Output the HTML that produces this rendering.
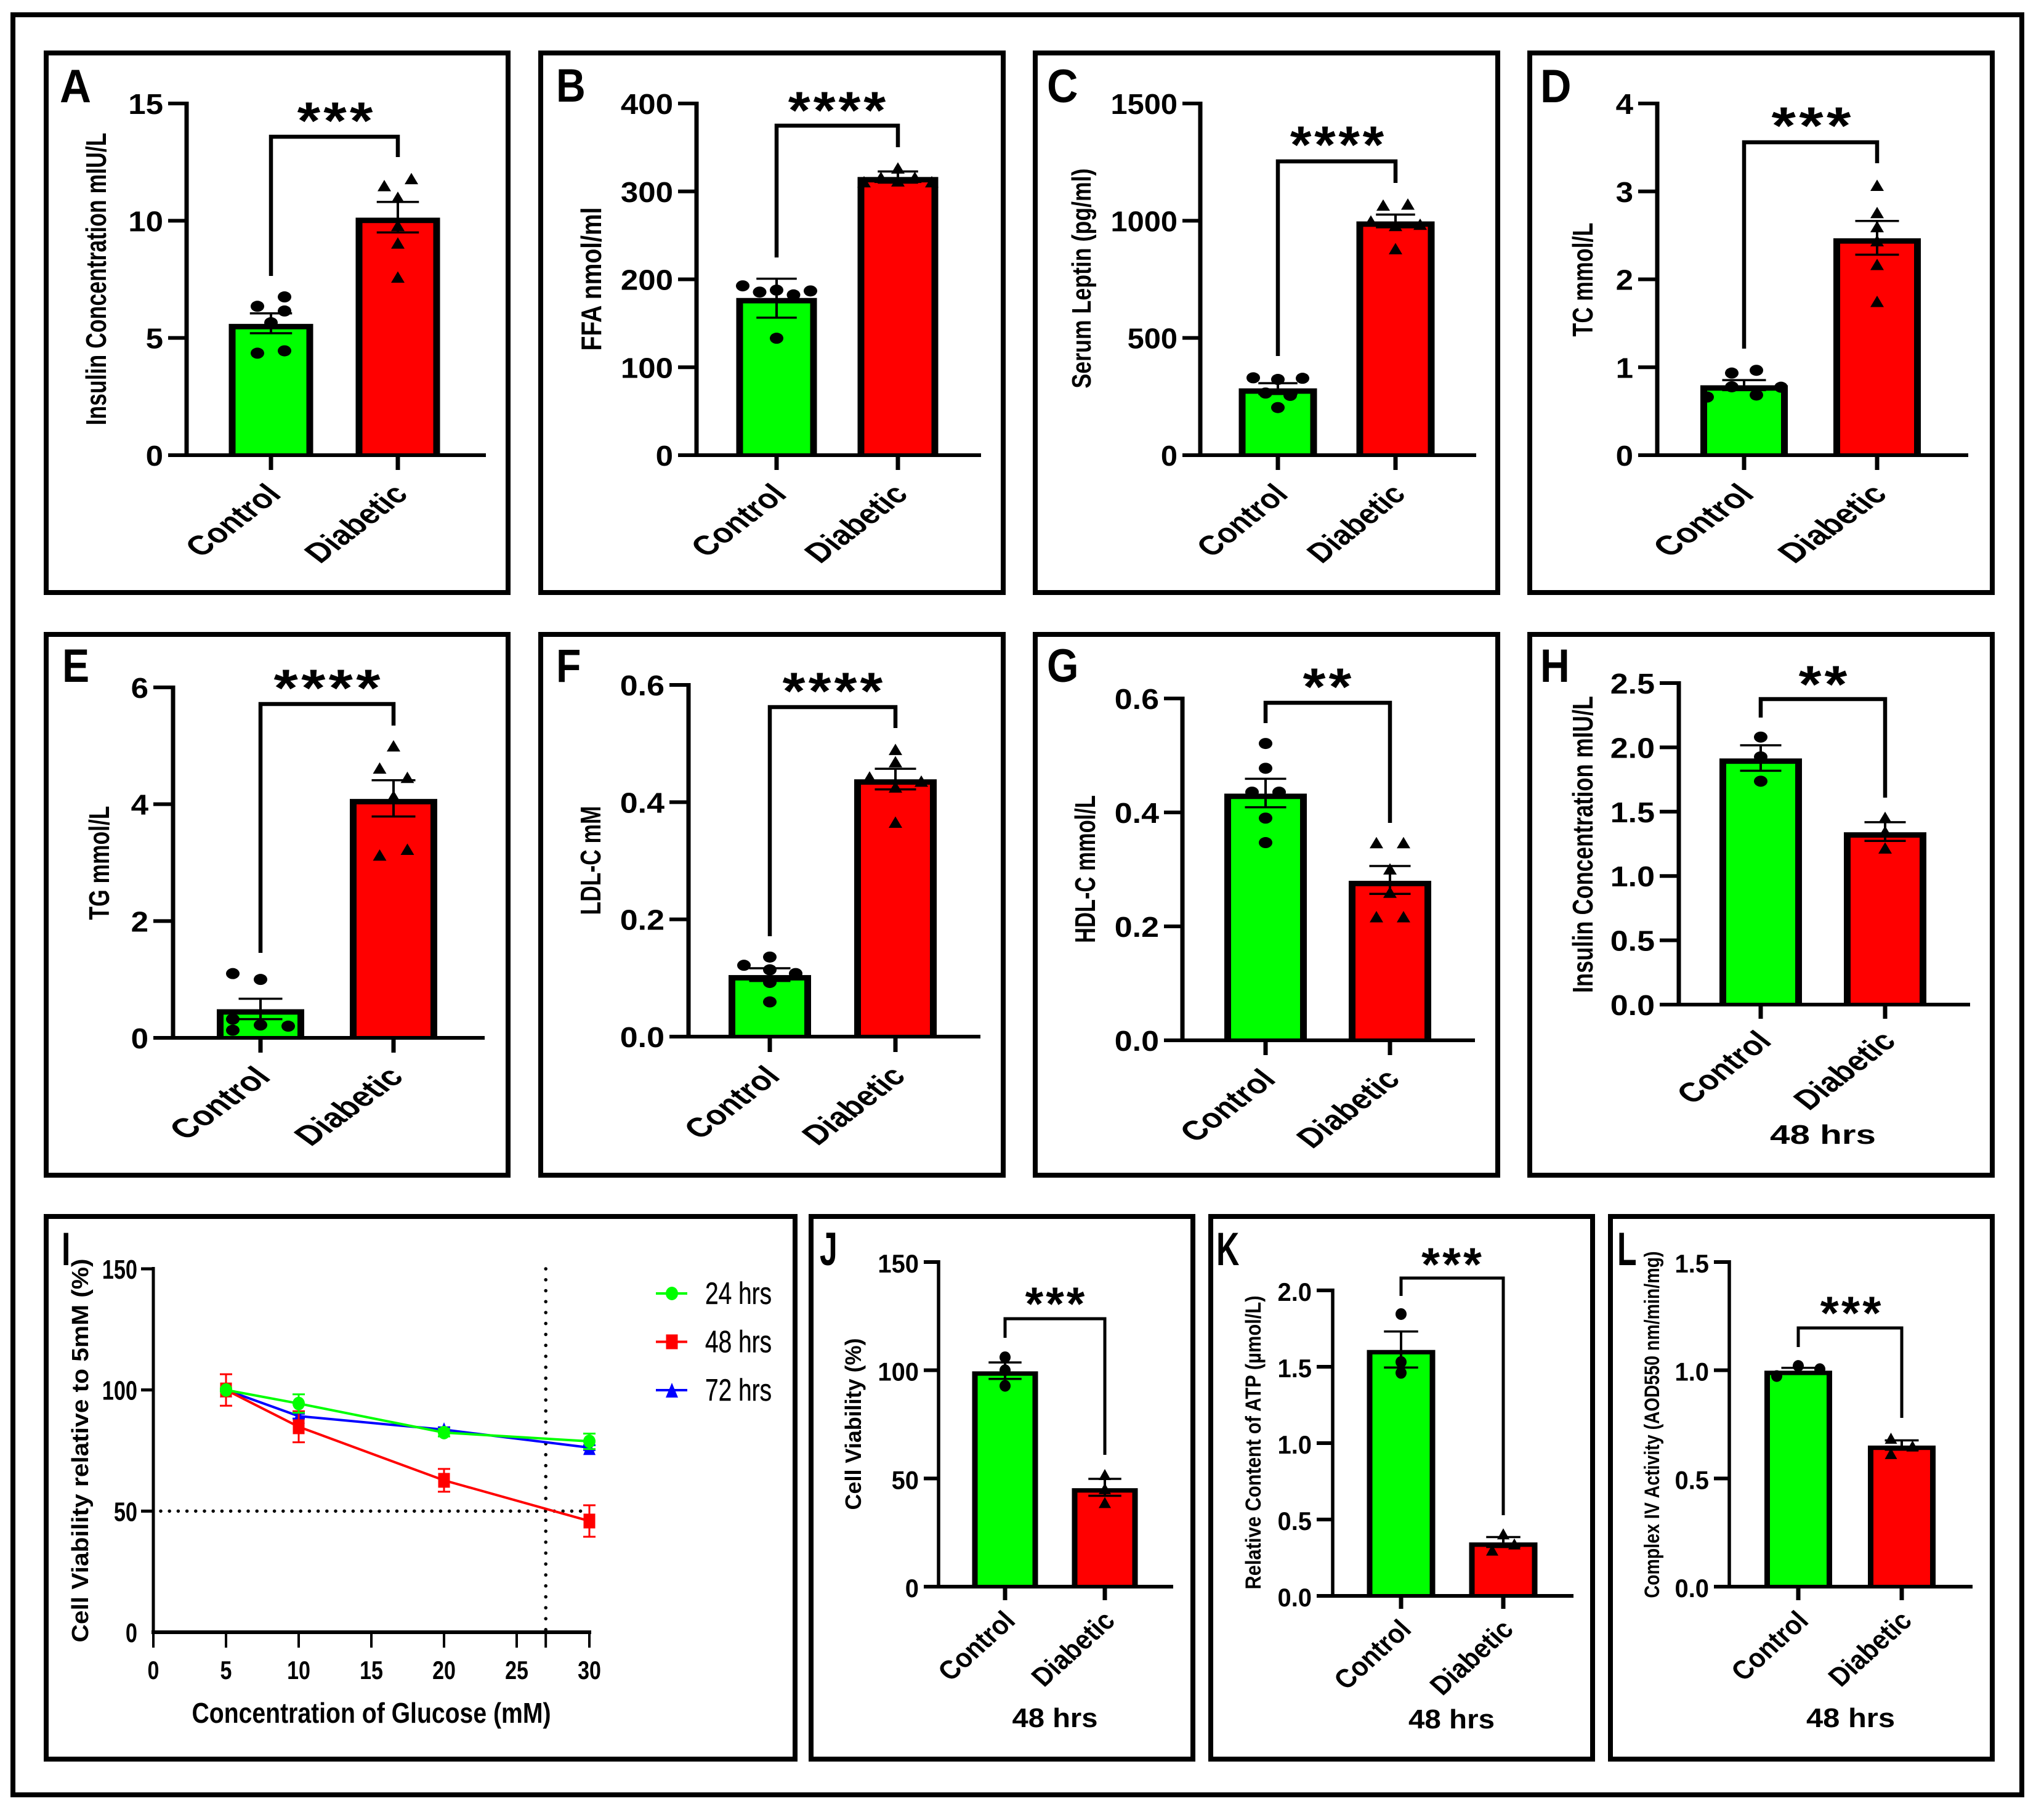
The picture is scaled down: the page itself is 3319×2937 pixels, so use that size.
<!DOCTYPE html>
<html lang="en">
<head>
<meta charset="utf-8">
<title>Diabetic versus control metabolic measurements</title>
<style>
html,body{margin:0;padding:0;background:#fff;}
svg{display:block;}
text{font-family:"Liberation Sans",Arial,sans-serif;fill:#000;}
</style>
</head>
<body>
<svg id="figure" xmlns="http://www.w3.org/2000/svg" width="3319" height="2937" viewBox="0 0 3319 2937">
<rect x="0" y="0" width="3319" height="2937" fill="#fff"/>
<rect x="21" y="24" width="3262" height="2890" fill="none" stroke="#000" stroke-width="8"/>
</svg>
<script>
const categories = ['Control', 'Diabetic'];

const ticksA = [0, 5, 10, 15];
const meanA = [5.6, 10.13];
const errUpA = [6.05, 10.8];
const errLowA = [5.2, 9.5];
const controlA = [6.35, 6.75, 6.15, 5.65, 4.35, 4.45];
const diabeticA = [11.5, 11.8, 11, 9.8, 9.05, 7.6];

const ticksB = [0, 100, 200, 300, 400];
const meanB = [178.8, 316.4];
const errUpB = [200.7, 322.7];
const errLowB = [156.4, 310];
const controlB = [192.6, 185.5, 187.7, 182.3, 186.8, 133];
const diabeticB = [326.7, 316, 316, 312, 311, 311];

const ticksC = [0, 500, 1000, 1500];
const meanC = [285, 997];
const errUpC = [307, 1026];
const errLowC = [261, 972];
const controlC = [330, 323, 328, 265, 255, 203];
const diabeticC = [1067, 1071, 999, 985, 980, 881];

const ticksD = [0, 1, 2, 3, 4];
const meanD = [0.795, 2.467];
const errUpD = [0.854, 2.664];
const errLowD = [0.74, 2.28];
const controlD = [0.934, 0.965, 0.778, 0.773, 0.684, 0.661];
const diabeticD = [3.07, 2.76, 2.6, 2.44, 2.17, 1.75];

const ticksE = [0, 2, 4, 6];
const meanE = [0.49, 4.09];
const errUpE = [0.67, 4.41];
const errLowE = [0.32, 3.79];
const controlE = [1.1, 1.0, 0.32, 0.22, 0.2, 0.13];
const diabeticE = [5.0, 4.62, 4.46, 4.14, 3.23, 3.13];

const ticksF = [0, 0.2, 0.4, 0.6];
const meanF = [0.105, 0.439];
const errUpF = [0.1166, 0.457];
const errLowF = [0.095, 0.4217];
const controlF = [0.1357, 0.1217, 0.114, 0.1076, 0.0924, 0.0592];
const diabeticF = [0.49, 0.469, 0.443, 0.436, 0.426, 0.366];

const ticksG = [0, 0.2, 0.4, 0.6];
const meanG = [0.433, 0.28];
const errUpG = [0.459, 0.306];
const errLowG = [0.409, 0.257];
const controlG = [0.521, 0.4775, 0.4356, 0.4356, 0.39, 0.347];
const diabeticG = [0.347, 0.347, 0.301, 0.26, 0.217, 0.217];

const ticksH = [0, 0.5, 1, 1.5, 2, 2.5];
const meanH = [1.914, 1.34];
const errUpH = [2.016, 1.418];
const errLowH = [1.818, 1.273];
const controlH = [2.08, 1.926, 1.737];
const diabeticH = [1.456, 1.346, 1.218];

const ticksJ = [0, 50, 100, 150];
const meanJ = [99.5, 45.5];
const errUpJ = [103.6, 49.8];
const errLowJ = [96, 42];
const controlJ = [106, 100, 92.8];
const diabeticJ = [51.8, 45.3, 38.9];

const ticksK = [0, 0.5, 1, 1.5, 2];
const meanK = [1.61, 0.35];
const errUpK = [1.731, 0.385];
const errLowK = [1.495, 0.32];
const controlK = [1.845, 1.531, 1.46];
const diabeticK = [0.406, 0.34, 0.30];

const ticksL = [0, 0.5, 1, 1.5];
const meanL = [0.998, 0.652];
const errUpL = [1.011, 0.676];
const errLowL = [0.986, 0.633];
const controlL = [1.02, 1.005, 0.973];
const diabeticL = [0.686, 0.65, 0.615];

const glucoseX = [5, 10, 20, 30];
const seriesNames = ['24 hrs', '48 hrs', '72 hrs'];
const viability24 = [100, 94.4, 82.4, 78.8];
const error24 = [0.6, 3.8, 1.6, 3.2];
const viability48 = [100, 84.8, 62.7, 45.9];
const error48 = [6.5, 6.4, 4.7, 6.5];
const viability72 = [100, 89.2, 83.6, 76.2];
const error72 = [0.6, 1, 1, 1];
const ticksIY = [0, 50, 100, 150];
const ticksIX = [0, 5, 10, 15, 20, 25, 30];
const referenceX = 27;
const referenceY = 50;

const NS = 'http://www.w3.org/2000/svg';
const root = document.getElementById('figure');

function add(parent, tagName, attrs, name) {
  const el = document.createElementNS(NS, tagName);
  for (const k in attrs) el.setAttribute(k, attrs[k]);
  
  
  parent.appendChild(el);
  return el;
}
function line(p, x1, y1, x2, y2, w, name, color) {
  return add(p, 'line', {x1: x1, y1: y1, x2: x2, y2: y2, stroke: color || '#000', 'stroke-width': w}, name);
}
function box(p, x, y, w, h, fill, name) {
  return add(p, 'rect', {x: x, y: y, width: w, height: h, fill: fill}, name);
}
function label(p, str, attrs, name) {
  const el = add(p, 'text', attrs, name);
  el.textContent = str;
  return el;
}
function triangle(p, cx, cy, w, h, fill, name) {
  const pts = (cx - w / 2) + ',' + (cy + h / 2) + ' ' + (cx + w / 2) + ',' + (cy + h / 2) + ' ' + cx + ',' + (cy - h / 2);
  return add(p, 'polygon', {points: pts, fill: fill}, name);
}

function barPanel(c) {
  const g = add(root, 'g', {}, 'panel-' + c.id);
  const y = v => c.y0 - (v / c.yMax) * (c.y0 - c.yTop);
  const f = c.frame;
  add(g, 'rect', {x: f.l + 4, y: f.t + 4, width: f.r - f.l - 8, height: f.b - f.t - 8, fill: 'none', stroke: '#000', 'stroke-width': 8}, 'panel-frame');
  label(g, c.letter, {transform: 'translate(' + c.letterX + ',' + c.letterY + ') scale(' + c.letterSx + ',1)', 'font-size': 76, 'font-weight': 'bold'}, 'panel-letter');

  const fills = ['#00ff00', '#ff0000'];
  c.mean.forEach((m, i) => {
    const cx = c.centers[i];
    const top = y(m);
    const hw = c.barW / 2;
    box(g, cx - hw, top, c.barW, c.y0 - top, '#000', 'bar-outline-' + categories[i].toLowerCase());
    box(g, cx - hw + c.sw, top + c.sw * 0.8, c.barW - 2 * c.sw, Math.max(0, c.y0 - top - c.sw * 0.8), fills[i], 'bar-' + categories[i].toLowerCase());
  });

  line(g, c.axisX, c.yTop - 3, c.axisX, c.y0 + 3, c.axisW, 'y-axis-line');
  line(g, c.tickLeft, c.y0, c.xEnd, c.y0, 6, 'x-axis-line');
  c.ticks.forEach(t => {
    const ty = y(t);
    if (t !== 0) line(g, c.tickLeft, ty, c.axisX, ty, 6, 'y-tick');
    label(g, t.toFixed(c.decimals), {transform: 'translate(' + (c.tickLeft - 8) + ',' + (ty + 17) + ') scale(' + c.tickSx + ',1)', 'font-size': c.tickSize, 'font-weight': 'bold', 'text-anchor': 'end'}, 'y-tick-label');
  });
  label(g, c.yTitle, {transform: 'translate(' + c.titleX + ',' + c.titleY + ') rotate(-90)', 'font-size': c.titleSize, 'font-weight': 'bold', 'text-anchor': 'middle', textLength: c.titleLen, lengthAdjust: 'spacingAndGlyphs'}, 'y-axis-title');

  categories.forEach((name, i) => {
    const cx = c.centers[i];
    line(g, cx, c.y0, cx, c.tickBottom, 7, 'x-tick');
    label(g, name, {transform: 'translate(' + (cx + c.catDx) + ',' + (c.tickBottom + c.catDy) + ') scale(' + c.catSx + ',' + c.catSy + ') rotate(-45) scale(0.89,1)', 'font-size': c.catSize, 'font-weight': 'bold', 'text-anchor': 'end'}, 'x-tick-label');
  });

  [c.control, c.diabetic].forEach((vals, i) => {
    const cx = c.centers[i];
    vals.forEach((v, j) => {
      const px = cx + c.slots[i][j] * c.slotW;
      if (i === 0) add(g, 'ellipse', {cx: px, cy: y(v), rx: c.dotRx, ry: c.dotRy, fill: '#000'}, 'control-point');
      else triangle(g, px, y(v), c.triW, c.triH, '#000', 'diabetic-point');
    });
  });

  categories.forEach((name, i) => {
    const cx = c.centers[i];
    const cap = c.barW * 0.25;
    line(g, cx, y(c.up[i]), cx, y(c.low[i]), 4, 'error-bar-stem');
    line(g, cx - cap, y(c.up[i]), cx + cap, y(c.up[i]), 3.5, 'error-bar-cap-upper');
    line(g, cx - cap, y(c.low[i]), cx + cap, y(c.low[i]), 3.5, 'error-bar-cap-lower');
  });

  const b = c.bracket;
  add(g, 'path', {d: 'M' + c.centers[0] + ' ' + b.left + 'V' + b.y + 'H' + c.centers[1] + 'V' + b.right, fill: 'none', stroke: '#000', 'stroke-width': c.bracketW}, 'significance-bracket');

  const n = c.stars.length;
  const starGlyphW = c.starW / (1.3 * (n - 1) + 1);
  const starSx = starGlyphW / (0.34 * c.starSize);
  const starPitch = (1.3 * starGlyphW) / starSx;
  const starPositions = [];
  for (let i = 0; i < n; i++) starPositions.push((i - (n - 1) / 2) * starPitch);
  label(g, c.stars, {transform: 'translate(' + c.starX + ',' + (c.starY - 1 + 0.49 * c.starSize) + ') scale(' + starSx + ',1)', x: starPositions.join(' '), y: 0, 'font-size': c.starSize, 'font-weight': 'bold', 'text-anchor': 'middle'}, 'significance-stars');

  if (c.hrs) {
    label(g, '48 hrs', {x: c.starX, y: c.hrs.y, 'font-size': c.hrs.size, 'font-weight': 'bold', 'text-anchor': 'middle', textLength: c.hrs.w, lengthAdjust: 'spacingAndGlyphs'}, 'duration-label');
  }
}

const row1 = {t: 82, b: 966, y0: 739, tickBottom: 763, yTop: 168};
const row3 = {t: 1971, b: 2860};
const wide = {sw: 11, axisW: 7, bracketW: 6.5, tickSize: 46, catSize: 66, catSx: 0.9, catSy: 0.69, catDx: 19, catDy: 42, dotRx: 11, dotRy: 9, triW: 22, triH: 18.5, titleSize: 46, starSize: 85};
const slim = {sw: 9, axisW: 5.5, bracketW: 5, tickSize: 42, catSize: 66, catSx: 0.73, catSy: 0.66, catDx: 19, catDy: 36, dotRx: 9, dotRy: 9.5, triW: 20, triH: 18, tickSx: 0.95, letterSx: 0.68, letterY: 2054, decimals: 1, titleSize: 36, starSize: 76};

barPanel(Object.assign({}, wide, row1, {
  id: 'a', letter: 'A', letterX: 97, letterY: 166, letterSx: 0.93,
  frame: {l: 71, t: 82, r: 829, b: 966}, axisX: 303, tickLeft: 273, yMax: 15, xEnd: 789,
  ticks: ticksA, decimals: 0, tickSx: 1.11, centers: [440, 646], barW: 137,
  yTitle: 'Insulin Concentration mIU/L', titleX: 172, titleY: 453, titleLen: 475,
  mean: meanA, up: errUpA, low: errLowA, control: controlA, diabetic: diabeticA,
  slots: [[-1, 1, 1, 0, -1, 1], [-1, 1, 0, 0, 0, 0]], slotW: 22,
  bracket: {y: 222, left: 448, right: 255}, stars: '***', starX: 544, starY: 185, starW: 118
}));
barPanel(Object.assign({}, wide, row1, {
  id: 'b', letter: 'B', letterX: 903, letterY: 165, letterSx: 0.87,
  frame: {l: 874, t: 82, r: 1633, b: 966}, axisX: 1131, tickLeft: 1101, yMax: 400, xEnd: 1593,
  ticks: ticksB, decimals: 0, tickSx: 1.11, centers: [1261, 1458], barW: 131,
  yTitle: 'FFA nmol/ml', titleX: 976, titleY: 453, titleLen: 233,
  mean: meanB, up: errUpB, low: errLowB, control: controlB, diabetic: diabeticB,
  slots: [[-2, -1, 0, 1, 2, 0], [0, -1, 1, 0, -2, 2]], slotW: 27.5,
  bracket: {y: 204, left: 418, right: 239}, stars: '****', starX: 1359, starY: 168, starW: 154
}));
barPanel(Object.assign({}, wide, row1, {
  id: 'c', letter: 'C', letterX: 1700, letterY: 166, letterSx: 0.92, catSx: 0.86,
  frame: {l: 1677, t: 82, r: 2436, b: 966}, axisX: 1949, tickLeft: 1920, yMax: 1500, xEnd: 2397,
  ticks: ticksC, decimals: 0, tickSx: 1.06, centers: [2075, 2266], barW: 127,
  yTitle: 'Serum Leptin (pg/ml)', titleX: 1771, titleY: 452, titleLen: 357, titleSize: 44,
  mean: meanC, up: errUpC, low: errLowC, control: controlC, diabetic: diabeticC,
  slots: [[-2, 0, 2, -1, 1, 0], [-1, 1, -2, 2, 0, 0]], slotW: 20,
  bracket: {y: 262, left: 578, right: 297}, stars: '****', starX: 2171, starY: 224, starW: 148
}));
barPanel(Object.assign({}, wide, row1, {
  id: 'd', letter: 'D', letterX: 2501, letterY: 166, letterSx: 0.92, catSx: 0.95,
  frame: {l: 2480, t: 82, r: 3239, b: 966}, axisX: 2691, tickLeft: 2660, yMax: 4, xEnd: 3196,
  ticks: ticksD, decimals: 0, tickSx: 1.11, centers: [2832, 3048], barW: 142,
  yTitle: 'TC mmol/L', titleX: 2586, titleY: 454, titleLen: 185,
  mean: meanD, up: errUpD, low: errLowD, control: controlD, diabetic: diabeticD,
  slots: [[-1, 1, -1, 3, 1, -3], [0, 0, 0, 0, 0, 0]], slotW: 20,
  bracket: {y: 231, left: 566, right: 265}, stars: '***', starX: 2941, starY: 193, starW: 124
}));

const row2 = {t: 1026, b: 1912, letterY: 1107, letterSx: 0.87};
barPanel(Object.assign({}, wide, row2, {
  id: 'e', letter: 'E', letterX: 101, catSx: 0.95,
  frame: {l: 71, t: 1026, r: 829, b: 1912}, axisX: 281, tickLeft: 249, y0: 1685, yTop: 1116, yMax: 6, xEnd: 787, tickBottom: 1709,
  ticks: ticksE, decimals: 0, tickSx: 1.11, centers: [423, 639], barW: 142,
  yTitle: 'TG mmol/L', titleX: 177, titleY: 1401, titleLen: 185,
  mean: meanE, up: errUpE, low: errLowE, control: controlE, diabetic: diabeticE,
  slots: [[-1, 0, -1, 0, 1, -1], [0, -0.5, 0.5, 0, 0.5, -0.5]], slotW: 45,
  bracket: {y: 1143, left: 1547, right: 1178}, stars: '****', starX: 531, starY: 1106, starW: 168
}));
barPanel(Object.assign({}, wide, row2, {
  id: 'f', letter: 'F', letterX: 903,
  frame: {l: 874, t: 1026, r: 1633, b: 1912}, axisX: 1118, tickLeft: 1087, y0: 1683, yTop: 1112, yMax: 0.6, xEnd: 1592, tickBottom: 1708,
  ticks: ticksF, decimals: 1, tickSx: 1.13, centers: [1250, 1454], barW: 134,
  yTitle: 'LDL-C mM', titleX: 975, titleY: 1397, titleLen: 177,
  mean: meanF, up: errUpF, low: errLowF, control: controlF, diabetic: diabeticF,
  slots: [[0, -1, 0, 1, 0, 0], [0, 0, -1, 1, 0, 0]], slotW: 42,
  bracket: {y: 1148, left: 1520, right: 1182}, stars: '****', starX: 1352, starY: 1111, starW: 158
}));
barPanel(Object.assign({}, wide, row2, {
  id: 'g', letter: 'G', letterX: 1700, letterSx: 0.87,
  frame: {l: 1677, t: 1026, r: 2436, b: 1912}, axisX: 1920, tickLeft: 1890, y0: 1689, yTop: 1134, yMax: 0.6, xEnd: 2395, tickBottom: 1713,
  ticks: ticksG, decimals: 1, tickSx: 1.13, centers: [2055, 2257], barW: 134,
  yTitle: 'HDL-C mmol/L', titleX: 1778, titleY: 1411, titleLen: 240,
  mean: meanG, up: errUpG, low: errLowG, control: controlG, diabetic: diabeticG,
  slots: [[0, 0, -1, 1, 0, 0], [-1, 1, 0, 0, -1, 1]], slotW: 22,
  bracket: {y: 1141, left: 1174, right: 1336}, stars: '**', starX: 2155, starY: 1104, starW: 74
}));
barPanel(Object.assign({}, wide, row2, {
  id: 'h', letter: 'H', letterX: 2501, letterSx: 0.87, catDx: 20, catDy: 39,
  frame: {l: 2480, t: 1026, r: 3239, b: 1912}, axisX: 2726, tickLeft: 2695, y0: 1631, yTop: 1109, yMax: 2.5, xEnd: 3199, tickBottom: 1654, catSx: 0.89,
  ticks: ticksH, decimals: 1, tickSx: 1.13, centers: [2859, 3061], barW: 134,
  yTitle: 'Insulin Concentration mIU/L', titleX: 2586, titleY: 1371, titleLen: 482,
  mean: meanH, up: errUpH, low: errLowH, control: controlH, diabetic: diabeticH,
  slots: [[0, 0, 0], [0, 0, 0]], slotW: 20,
  bracket: {y: 1135, left: 1165, right: 1295}, stars: '**', starX: 2960, starY: 1100, starW: 74,
  hrs: {y: 1857, size: 44, w: 172}
}));

barPanel(Object.assign({}, slim, row3, {
  id: 'j', letter: 'J', letterX: 1331,
  frame: {l: 1313, t: 1971, r: 1941, b: 2860}, axisX: 1524, tickLeft: 1500, y0: 2576, yTop: 2049, yMax: 150, xEnd: 1905, tickBottom: 2598,
  ticks: ticksJ, decimals: 0, centers: [1632, 1794], barW: 107,
  yTitle: 'Cell Viability (%)', titleX: 1398, titleY: 2312, titleLen: 279,
  mean: meanJ, up: errUpJ, low: errLowJ, control: controlJ, diabetic: diabeticJ,
  slots: [[0, 0, 0], [0, 0, 0]], slotW: 18,
  bracket: {y: 2141, left: 2172, right: 2362}, stars: '***', starX: 1713, starY: 2107, starW: 93,
  hrs: {y: 2804, size: 44, w: 139}
}));
barPanel(Object.assign({}, slim, row3, {
  id: 'k', letter: 'K', letterX: 1975,
  frame: {l: 1962, t: 1971, r: 2590, b: 2860}, axisX: 2164, tickLeft: 2138, y0: 2591, yTop: 2095, yMax: 2, xEnd: 2555, tickBottom: 2612,
  ticks: ticksK, centers: [2275, 2441], barW: 111, titleSize: 35,
  yTitle: 'Relative Content of ATP (\u00b5mol/L)', titleX: 2047, titleY: 2342, titleLen: 477,
  mean: meanK, up: errUpK, low: errLowK, control: controlK, diabetic: diabeticK,
  slots: [[0, 0, 0], [0, 1, -1]], slotW: 18,
  bracket: {y: 2075, left: 2104, right: 2460}, stars: '***', starX: 2357, starY: 2043, starW: 94,
  hrs: {y: 2806, size: 44, w: 140}
}));
barPanel(Object.assign({}, slim, row3, {
  id: 'l', letter: 'L', letterX: 2626,
  frame: {l: 2611, t: 1971, r: 3239, b: 2860}, axisX: 2808, tickLeft: 2783, y0: 2576, yTop: 2049, yMax: 1.5, xEnd: 3203, tickBottom: 2598,
  ticks: ticksL, centers: [2920, 3088], barW: 110, titleSize: 34,
  yTitle: 'Complex IV Activity (AOD550 nm/min/mg)', titleX: 2694, titleY: 2313, titleLen: 563,
  mean: meanL, up: errUpL, low: errLowL, control: controlL, diabetic: diabeticL,
  slots: [[0, 1, -1], [-0.5, 0.5, -0.5]], slotW: 35,
  bracket: {y: 2156, left: 2187, right: 2302}, stars: '***', starX: 3005, starY: 2122, starW: 95,
  hrs: {y: 2804, size: 44, w: 144}
}));

function linePanel() {
  const g = add(root, 'g', {}, 'panel-i');
  add(g, 'rect', {x: 75, y: 1975, width: 1216, height: 881, fill: 'none', stroke: '#000', 'stroke-width': 8}, 'panel-frame');
  label(g, 'I', {transform: 'translate(100,2054) scale(0.68,1)', 'font-size': 76, 'font-weight': 'bold'}, 'panel-letter');
  const left = 249, right = 957, y0 = 2650, yTop = 2060, xMax = 30, yMax = 150;
  const x = v => left + (v / xMax) * (right - left);
  const y = v => y0 - (v / yMax) * (y0 - yTop);

  line(g, left, yTop - 3, left, y0 + 3, 5, 'y-axis-line');
  line(g, left - 3, y0, x(xMax) + 3, y0, 6, 'x-axis-line');
  ticksIY.forEach(t => {
    if (t !== 0) line(g, 229, y(t), left, y(t), 5, 'y-tick');
    label(g, String(t), {transform: 'translate(223,' + (y(t) + 16) + ') scale(0.78,1)', 'font-size': 44, 'font-weight': 'bold', 'text-anchor': 'end'}, 'y-tick-label');
  });
  ticksIX.forEach(t => {
    line(g, x(t), y0, x(t), 2675, 4, 'x-tick');
    label(g, String(t), {transform: 'translate(' + x(t) + ',2726) scale(0.81,1)', 'font-size': 42, 'font-weight': 'bold', 'text-anchor': 'middle'}, 'x-tick-label');
  });
  line(g, x(referenceX), y0, x(referenceX), 2675, 4, 'x-tick-reference');
  add(g, 'line', {x1: x(referenceX), y1: yTop, x2: x(referenceX), y2: y0, stroke: '#000', 'stroke-width': 5.5, 'stroke-linecap': 'round', 'stroke-dasharray': '0 17.75'}, 'vertical-reference-line');
  add(g, 'line', {x1: 261, y1: y(referenceY), x2: 950, y2: y(referenceY), stroke: '#000', 'stroke-width': 5.5, 'stroke-linecap': 'round', 'stroke-dasharray': '0 14.2'}, 'horizontal-reference-line');

  label(g, 'Cell Viability relative to 5mM (%)', {transform: 'translate(143,2355) rotate(-90)', 'font-size': 38, 'font-weight': 'bold', 'text-anchor': 'middle', textLength: 623, lengthAdjust: 'spacingAndGlyphs'}, 'y-axis-title');
  label(g, 'Concentration of Glucose (mM)', {x: 603, y: 2797, 'font-size': 46, 'font-weight': 'bold', 'text-anchor': 'middle', textLength: 583, lengthAdjust: 'spacingAndGlyphs'}, 'x-axis-title');

  const marker = (p, kind, cx, cy, color, name) => {
    if (kind === 'circle') add(p, 'ellipse', {cx: cx, cy: cy, rx: 10, ry: 11, fill: color}, name);
    else if (kind === 'square') box(p, cx - 9.5, cy - 12, 19, 24, color, name);
    else triangle(p, cx, cy, 20, 24, color, name);
  };
  const seriesList = [
    {vals: viability72, errs: error72, color: '#0000ff', kind: 'triangle', key: '72-hrs'},
    {vals: viability48, errs: error48, color: '#ff0000', kind: 'square', key: '48-hrs'},
    {vals: viability24, errs: error24, color: '#00ff00', kind: 'circle', key: '24-hrs'}
  ];
  seriesList.forEach(s => {
    const sg = add(g, 'g', {}, 'series-' + s.key);
    const d = s.vals.map((v, i) => x(glucoseX[i]) + ',' + y(v)).join(' ');
    add(sg, 'polyline', {points: d, fill: 'none', stroke: s.color, 'stroke-width': 4}, 'series-line');
    s.vals.forEach((v, i) => {
      const px = x(glucoseX[i]);
      line(sg, px, y(v + s.errs[i]), px, y(v - s.errs[i]), 3, 'error-bar-stem', s.color);
      line(sg, px - 10, y(v + s.errs[i]), px + 10, y(v + s.errs[i]), 3, 'error-bar-cap-upper', s.color);
      line(sg, px - 10, y(v - s.errs[i]), px + 10, y(v - s.errs[i]), 3, 'error-bar-cap-lower', s.color);
      marker(sg, s.kind, px, y(v), s.color, 'series-marker');
    });
  });

  const legendColors = ['#00ff00', '#ff0000', '#0000ff'];
  const legendKinds = ['circle', 'square', 'triangle'];
  const legendStart = 2100, legendStep = 78.5;
  seriesNames.forEach((name, i) => {
    const ly = legendStart + i * legendStep;
    const lg = add(g, 'g', {}, 'legend-entry');
    line(lg, 1065, ly, 1116, ly, 4, 'legend-line', legendColors[i]);
    marker(lg, legendKinds[i], 1091, ly, legendColors[i], 'legend-marker');
    label(lg, name, {x: 1145, y: ly + 17, 'font-size': 50, textLength: 108, lengthAdjust: 'spacingAndGlyphs', stroke: '#000', 'stroke-width': 0.4}, 'legend-label');
  });
}
linePanel();
</script>
</body>
</html>
